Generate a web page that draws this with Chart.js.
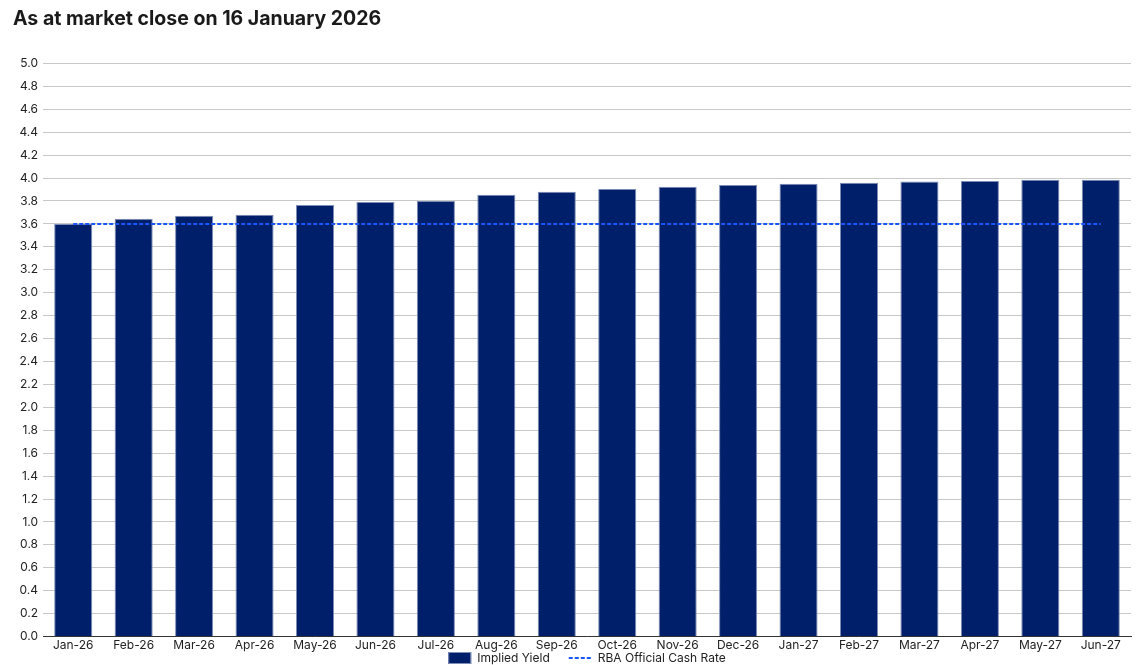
<!DOCTYPE html>
<html>
<head>
<meta charset="utf-8">
<script src="https://cdn.jsdelivr.net/npm/chart.js@4"></script>
<style>
  html, body { margin: 0; padding: 0; background: #fff; }
  #wrap { width: 1138px; height: 665px; }
</style>
</head>
<body>
<div id="wrap"><canvas id="graphic"></canvas></div>
<script>
const months = ['Jan-26', 'Feb-26', 'Mar-26', 'Apr-26', 'May-26', 'Jun-26', 'Jul-26', 'Aug-26', 'Sep-26',
    'Oct-26', 'Nov-26', 'Dec-26', 'Jan-27', 'Feb-27', 'Mar-27', 'Apr-27', 'May-27', 'Jun-27'];
const impliedYield = [3.60, 3.645, 3.67, 3.68, 3.765, 3.79, 3.80, 3.855, 3.88,
    3.905, 3.925, 3.94, 3.95, 3.96, 3.97, 3.975, 3.985, 3.985];
const cashRate = [3.60, 3.60, 3.60, 3.60, 3.60, 3.60, 3.60, 3.60, 3.60,
    3.60, 3.60, 3.60, 3.60, 3.60, 3.60, 3.60, 3.60, 3.60];
const yMin = 0, yMax = 5.0, yStep = 0.2;

const ctx = document.getElementById('graphic');
const fonte = 'Inter, "Open Sans", sans-serif';

// legenda desenhada a mao, centrada na area do grafico
const legendaBaixo = {
    id: 'legendaBaixo',
    afterDraw(chart) {
        const c = chart.ctx;
        const area = chart.chartArea;
        const ds = chart.data.datasets;
        c.save();
        c.font = '12px ' + fonte;
        c.textBaseline = 'middle';
        c.textAlign = 'left';
        const caixa = 23, gap = 6, entre = 19;
        const larguras = ds.map(d => caixa + gap + c.measureText(d.label).width);
        const total = larguras.reduce((a, b) => a + b, 0) + entre * (ds.length - 1);
        let x = (area.left + area.right) / 2 - total / 2;
        const y = 658;
        ds.forEach((d, i) => {
            if (d.type === 'line') {
                c.strokeStyle = d.borderColor;
                c.lineWidth = d.borderWidth;
                c.setLineDash(d.borderDash || []);
                c.beginPath();
                c.moveTo(x, y);
                c.lineTo(x + caixa, y);
                c.stroke();
                c.setLineDash([]);
            } else {
                c.fillStyle = d.backgroundColor;
                c.fillRect(x, y - 6, caixa, 12);
                c.strokeStyle = d.borderColor;
                c.lineWidth = 1;
                c.strokeRect(x + 0.5, y - 5.5, caixa - 1, 11);
            }
            c.fillStyle = '#222';
            c.fillText(d.label, x + caixa + gap, y);
            x += larguras[i] + entre;
        });
        c.restore();
    }
};

let grafico = new Chart(ctx, {
    type: 'bar',
    data: {
        labels: months,
        datasets: [{
            label: 'Implied Yield',
            data: impliedYield,
            backgroundColor: '#001f6b',
            borderColor: '#7d8db5',
            borderWidth: 1,
            barPercentage: 0.63,
            categoryPercentage: 1,
            order: 1
        }, {
            type: 'line',
            label: 'RBA Official Cash Rate',
            data: cashRate,
            borderColor: '#1a56ff',
            backgroundColor: '#1a56ff',
            borderWidth: 2,
            borderDash: [4, 2],
            pointRadius: 0,
            fill: false,
            order: 0
        }]
    },
    options: {
        responsive: true,
        maintainAspectRatio: false,
        animation: false,
        layout: { padding: { left: 13, right: 7, top: 0, bottom: 10 } },
        plugins: {
            title: {
                display: true,
                text: 'As at market close on 16 January 2026',
                align: 'start',
                color: '#1a1a1a',
                font: { family: fonte, size: 19.5, weight: 'bold' },
                padding: { top: 7, bottom: 33 }
            },
            legend: { display: false },
            tooltip: { enabled: false }
        },
        scales: {
            x: {
                grid: { display: false, drawTicks: false },
                border: { display: true, color: '#333', width: 1 },
                ticks: { color: '#222', font: { family: fonte, size: 12 }, padding: 2, maxRotation: 0, autoSkip: false }
            },
            y: {
                min: yMin,
                max: yMax,
                grid: { color: '#c8c8c8', drawTicks: false },
                border: { display: false },
                ticks: {
                    stepSize: yStep,
                    color: '#222',
                    font: { family: fonte, size: 12 },
                    padding: 5,
                    callback: v => v.toFixed(1)
                },
                afterFit: s => { s.width = 30; }
            }
        }
    },
    plugins: [legendaBaixo]
});
</script>
</body>
</html>
